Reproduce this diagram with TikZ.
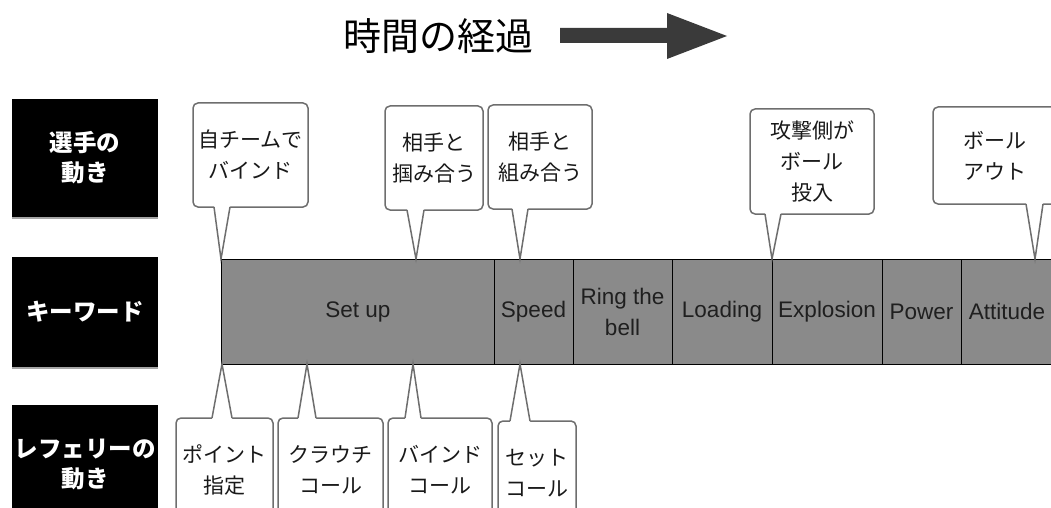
\documentclass[tikz,border=0pt]{standalone}
\usepackage{fontspec}
\setmainfont{Liberation Sans}
\newfontfamily\jp{Noto Sans CJK JP}
\usetikzlibrary{shadows}
\definecolor{barfill}{HTML}{8A8A8A}
\definecolor{cgray}{HTML}{6E6E6E}
\definecolor{arrowgray}{HTML}{3A3A3A}
\tikzset{
  labbox/.style={fill=black, text=white, inner sep=0pt, align=center,
    minimum width=146pt,
    font=\jp\bfseries\fontsize{23.5}{30}\selectfont,
    drop shadow={shadow xshift=0pt, shadow yshift=-2pt, opacity=.35, fill=black}},
  cell/.style={draw=black, line width=0.8pt, fill=barfill, minimum height=105pt,
    inner sep=0pt, align=center, text=black!88,
    font=\fontsize{22.5}{31}\selectfont},
  callbox/.style={draw=cgray, line width=1.5pt, fill=white, rounded corners=5pt,
    inner sep=0pt, align=center, text=black!90,
    font=\jp\fontsize{21}{31}\selectfont},
  ptrline/.style={draw=cgray, line width=1.5pt, line join=miter},
}
% #1 left x, #2 right x, #3 base y, #4 inner y, #5 tip coordinate
\newcommand\callptr[5]{%
  \fill[white] (#1,#4) -- (#1,#3) -- (#5) -- (#2,#3) -- (#2,#4) -- cycle;
  \draw[ptrline] (#1,#3) -- (#5) -- (#2,#3);}
\begin{document}
\begin{tikzpicture}[x=1pt,y=-1pt]
\useasboundingbox (0,0) rectangle (1051,508);
\clip (0,0) rectangle (1051,508);

% title and arrow
\node[font=\jp\fontsize{38}{38}\selectfont, inner sep=0pt] (title) at (438.5,36) {時間の経過};
\fill[arrowgray] (560,28) -- (667,28) -- (667,13) -- (727,36) -- (667,59) -- (667,43) -- (560,43) -- cycle;

% row labels
\node[labbox, minimum height=118pt] (lab1) at (85,158) {選手の\\動き};
\node[labbox, minimum height=110pt] (lab2) at (85,312) {キーワード};
\node[labbox, minimum height=118pt] (lab3) at (85,464) {レフェリーの\\動き};

% keyword bar
\node[cell, minimum width=274pt] (setup) at (358,311.5) {Set up};
\node[cell, minimum width=79pt] (speed) at (533.5,311.5) {Speed};
\node[cell, minimum width=99pt] (ring) at (622.5,311.5) {Ring the\\bell};
\node[cell, minimum width=100pt] (loading) at (722,311.5) {Loading};
\node[cell, minimum width=110pt] (explosion) at (827,311.5) {Explosion};
\node[cell, minimum width=79pt] (power) at (921.5,311.5) {Power};
\node[cell, minimum width=92pt] (attitude) at (1007,311.5) {Attitude};

% tip points on the bar
\coordinate (k1) at (221,259);
\coordinate (k2) at (416,259);
\coordinate (k3) at (520,259);
\coordinate (k4) at (772,259);
\coordinate (k5) at (1035,259);
\coordinate (r1) at (222,364);
\coordinate (r2) at (307,364);
\coordinate (r3) at (413,364);
\coordinate (r4) at (520,364);

% player callouts (top)
\node[callbox, minimum width=115pt, minimum height=104pt] (t1) at (250.5,155) {自チームで\\バインド};
\callptr{214}{230}{207}{203}{k1}
\node[callbox, minimum width=98pt, minimum height=104pt] (t2) at (434,158) {相手と\\掴み合う};
\callptr{407}{424}{210}{206}{k2}
\node[callbox, minimum width=104pt, minimum height=104pt] (t3) at (540,157) {相手と\\組み合う};
\callptr{512}{528}{209}{205}{k3}
\node[callbox, minimum width=124pt, minimum height=105pt] (t4) at (812,161.5) {攻撃側が\\ボール\\投入};
\callptr{765}{781}{214}{210}{k4}
\node[callbox, minimum width=124pt, minimum height=97pt] (t5) at (995,155.5) {ボール\\アウト};
\callptr{1026}{1043}{204}{200}{k5}

% referee callouts (bottom)
\node[callbox, minimum width=97pt, minimum height=104pt] (b1) at (224.5,470) {ポイント\\指定};
\callptr{212}{232}{418}{422}{r1}
\node[callbox, minimum width=105pt, minimum height=104pt] (b2) at (330.5,470) {クラウチ\\コール};
\callptr{298}{316}{418}{422}{r2}
\node[callbox, minimum width=104pt, minimum height=104pt] (b3) at (440,470) {バインド\\コール};
\callptr{405}{421}{418}{422}{r3}
\node[callbox, minimum width=78pt, minimum height=104pt] (b4) at (537,473) {セット\\コール};
\callptr{510}{530}{421}{425}{r4}
\end{tikzpicture}
\end{document}
